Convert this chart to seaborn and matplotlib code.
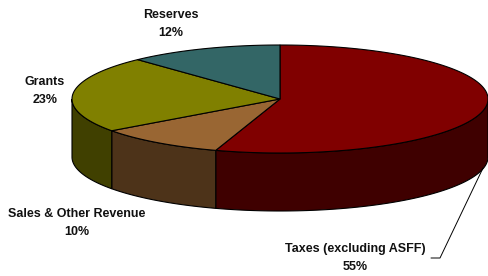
import numpy as np
import matplotlib
matplotlib.use("Agg")
import matplotlib.pyplot as plt
from matplotlib.patches import Polygon
import seaborn as sns

# revenue shares (%), drawn clockwise from 12 o'clock
categories = ["Taxes (excluding ASFF)", "Sales & Other Revenue", "Grants", "Reserves"]
shares = [55, 10, 23, 12]
top_colors = ["#800000", "#996633", "#808000", "#336666"]
side_colors = ["#3f0000", "#4d3319", "#404000", "#1a3333"]

sns.set_style("white")
plt.rcParams["font.family"] = ["Liberation Sans", "DejaVu Sans"]

fig = plt.figure(figsize=(4.88, 2.76), dpi=100)
ax = fig.add_axes([0, 0, 1, 1])
ax.set_xlim(0, 488)
ax.set_ylim(276, 0)
ax.axis("off")

cx, cy, rx, ry, depth = 280, 99, 208, 54, 58


def ellipse_pts(t0, t1, dy=0.0, n=120):
    t = np.radians(np.linspace(t0, t1, n))
    return np.column_stack([cx + rx * np.cos(t), cy - ry * np.sin(t) + dy])


fracs = np.array(shares, dtype=float) / sum(shares)
cum = np.concatenate([[0], np.cumsum(fracs) * 360])
spans = []
for i in range(len(shares)):
    t_start = (90 - cum[i + 1]) % 360
    t_end = t_start + (cum[i + 1] - cum[i])
    spans.append((t_start, t_end))

# side walls (front half only)
for (t0, t1), col in zip(spans, side_colors):
    for lo, hi in [(180, 360), (540, 720)]:
        a, b = max(t0, lo), min(t1, hi)
        if b > a:
            top = ellipse_pts(a, b)
            bot = ellipse_pts(b, a, dy=depth)
            ax.add_patch(Polygon(np.vstack([top, bot]), closed=True,
                                 facecolor=col, edgecolor="black", lw=0.8))

# top face
for (t0, t1), col in zip(spans, top_colors):
    pts = np.vstack([[cx, cy], ellipse_pts(t0, t1)])
    ax.add_patch(Polygon(pts, closed=True, facecolor=col,
                         edgecolor="black", lw=0.8))

labels = [f"{c}\n{s}%" for c, s in zip(categories, shares)]
label_pos = [(355, 258), (77, 223), (45, 91), (171, 24)]
for txt, (x, y) in zip(labels, label_pos):
    ax.text(x, y, txt, ha="center", va="center", fontsize=9,
            fontweight="bold", linespacing=1.6, color="#111111")

# leader line for the taxes label
ax.plot([431, 440, 483], [258, 258, 168], color="black", lw=0.7)

fig.savefig("out.png", dpi=100, facecolor="white")
